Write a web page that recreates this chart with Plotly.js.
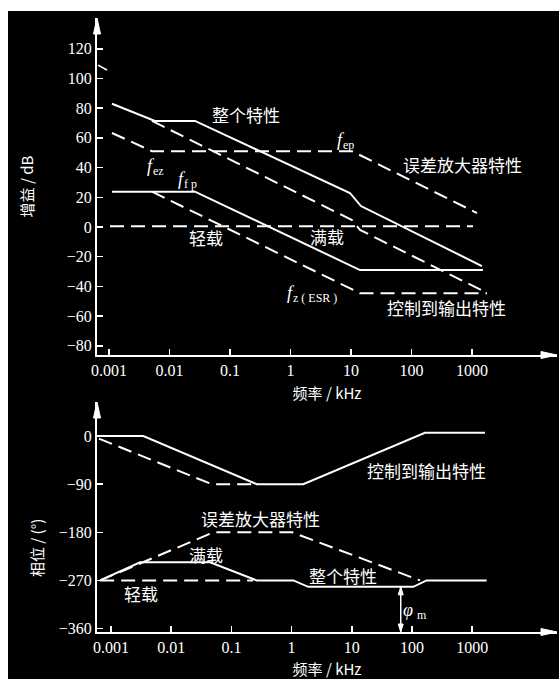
<!DOCTYPE html>
<html>
<head>
<meta charset="utf-8">
<script src="https://cdn.plot.ly/plotly-3.0.1.min.js"></script>
<style>
  html, body { margin: 0; padding: 0; background: #ffffff; }
  #chart { position: absolute; left: 8px; top: 11px; width: 551px; height: 668px; }
</style>
</head>
<body>
<div id="chart"></div>
<script>
// ---------- Tick labels ----------
const freqTicks = [0.001, 0.01, 0.1, 1, 10, 100, 1000];
const freqTickText = ['0.001', '0.01', '0.1', '1', '10', '100', '1000'];
const gainTicks = [120, 100, 80, 60, 40, 20, 0, -20, -40, -60, -80];
const gainTickText = ['120', '100', '80', '60', '40', '20', '0', '−20', '−40', '−60', '−80'];
const phaseTicks = [0, -90, -180, -270, -360];
const phaseTickText = ['0', '−90', '−180', '−270', '−360'];

// ---------- Gain plot (dB) ----------
// 整个特性 (overall, full load) solid
const gainOverallF = [0.00112, 0.00575, 0.0264, 9.6, 14.6, 1460];
const gainOverallV = [83, 71.4, 71.4, 22.9, 14.1, -26.3];
// overall, light load (dashed)
const gainOverallLightF = [0.00514, 10.4, 14.1, 1770];
const gainOverallLightV = [71.4, 4.7, -2, -44.4];
// 误差放大器特性 (error amplifier) dashed
const gainEaF = [0.00112, 0.00514, 10.4, 1210];
const gainEaV = [63.3, 51, 51, 9.4];
// 控制到输出特性 full load (solid)
const gainCtoFullF = [0.00112, 0.0264, 14.1, 1520];
const gainCtoFullV = [23.8, 23.8, -29, -29];
// 控制到输出特性 light load (dashed)
const gainCtoLightF = [0.00514, 14.1, 1770];
const gainCtoLightV = [23.8, -44.6, -44.6];
// 0 dB reference (dashed)
const gainZeroF = [0.00104, 1040];
const gainZeroV = [0.5, 0.5];
// small break mark near top of axis
const breakMarkF = [0.000658, 0.000927];
const breakMarkV = [109, 105.7];

// ---------- Phase plot (deg) ----------
// 控制到输出特性 full load solid
const phCtoFullF = [0.000615, 0.00344, 0.263, 1.56, 164, 1630];
const phCtoFullV = [0, 0, -90, -90, 6, 6];
// 控制到输出特性 light load dashed
const phCtoLightF = [0.00063, 0.0471, 0.229];
const phCtoLightV = [-5, -90, -90];
// 误差放大器特性 dashed
const phEaF = [0.00066, 0.05, 1.02, 136];
const phEaV = [-270, -180, -180, -270];
// 满载 / 整个特性 solid
const phOverallF = [0.00066, 0.00304, 0.0442, 0.263, 1.07, 1.89, 105, 175, 1740];
const phOverallV = [-270, -236, -236, -270, -270, -282, -282, -270, -270];
// 轻载 dashed at -270
const phLightF = [0.00066, 0.229];
const phLightV = [-270, -270];
// phase margin marker (frequency, top phase, axis bottom)
const phaseMarginF = 65;
const phaseMarginTop = -282;
const phaseMarginBottom = -366.4;

const W = '#ffffff';
const DASH = '14px,7px';

function tr(xs, ys, dashed, xa, ya, width) {
  return {
    x: xs, y: ys, xaxis: xa, yaxis: ya, type: 'scatter', mode: 'lines',
    line: { color: W, width: width || 2, dash: dashed ? DASH : 'solid' },
    hoverinfo: 'skip', showlegend: false
  };
}

const data = [
  tr(gainOverallF, gainOverallV, false, 'x', 'y'),
  tr(gainOverallLightF, gainOverallLightV, true, 'x', 'y'),
  tr(gainEaF, gainEaV, true, 'x', 'y'),
  tr(gainCtoFullF, gainCtoFullV, false, 'x', 'y'),
  tr(gainCtoLightF, gainCtoLightV, true, 'x', 'y'),
  tr(gainZeroF, gainZeroV, true, 'x', 'y'),
  tr(breakMarkF, breakMarkV, false, 'x', 'y', 1.5),
  tr(phCtoFullF, phCtoFullV, false, 'x2', 'y2'),
  tr(phCtoLightF, phCtoLightV, true, 'x2', 'y2'),
  tr(phEaF, phEaV, true, 'x2', 'y2'),
  tr(phOverallF, phOverallV, false, 'x2', 'y2'),
  tr(phLightF, phLightV, true, 'x2', 'y2')
];

const serif = "'Liberation Serif', 'Times New Roman', serif";
const cjk = "'Noto Sans CJK SC', sans-serif";
const tickFont = { family: serif, size: 16, color: W };
const titleFont = { family: cjk, size: 15, color: W };

function xAxis(range, anchor, title) {
  return {
    type: 'log', range: range, domain: [0, 1], anchor: anchor,
    showline: true, linecolor: W, linewidth: 2,
    ticks: 'inside', ticklen: 6, tickwidth: 1.5, tickcolor: W,
    tickvals: freqTicks, ticktext: freqTickText, tickfont: tickFont,
    title: { text: title, font: titleFont, standoff: 10 },
    showgrid: false, zeroline: false, fixedrange: true
  };
}
function yAxis(range, domain, anchor, vals, text, title) {
  const ax = {
    range: range, domain: domain, anchor: anchor,
    showline: true, linecolor: W, linewidth: 2,
    ticks: 'inside', ticklen: 6, tickwidth: 1.5, tickcolor: W,
    tickvals: vals, ticktext: text, tickfont: tickFont,
    showgrid: false, zeroline: false, fixedrange: true
  };
  if (title) ax.title = { text: title, font: titleFont, standoff: 30 };
  return ax;
}

function lab(text, x, y, xa, ya, size) {
  return {
    text: text, x: x, y: y, xref: xa, yref: ya, showarrow: false,
    font: { family: cjk, size: size || 17, color: W },
    xanchor: 'center', yanchor: 'middle'
  };
}
// italic symbol + subscript, as two separate texts meeting at (x, y)
function sym(main, subText, x, y, xa, ya, gap) {
  const g = gap || 0;
  return [
    { text: main, x: x, y: y, xref: xa, yref: ya, showarrow: false,
      font: { family: serif, size: 18, color: W, style: 'italic' },
      xanchor: 'right', yanchor: 'middle', xshift: 3 - g, borderpad: 0 },
    { text: subText, x: x, y: y, xref: xa, yref: ya, showarrow: false,
      font: { family: serif, size: 12, color: W },
      xanchor: 'left', yanchor: 'middle', xshift: -1 + g, yshift: -5, borderpad: 0 }
  ];
}
const L = Math.log10;

const topX = 0.4511, botTop = 0.3746;

const annotations = [
  // gain labels
  lab('整个特性', L(0.184), 75.4, 'x', 'y'),
  ...sym('f', 'ep', L(7.38), 58.6, 'x', 'y'),
  lab('误差放大器特性', L(684), 41.8, 'x', 'y'),
  ...sym('f', 'ez', L(0.00533), 41, 'x', 'y'),
  ...sym('f', 'f p', L(0.0174), 32.3, 'x', 'y'),
  lab('轻载', L(0.0401), -7.4, 'x', 'y'),
  lab('满载', L(4.01), -6.1, 'x', 'y'),
  ...sym('f', 'z ( ESR )', L(1.10), -44.4, 'x', 'y'),
  lab('控制到输出特性', L(372), -54.5, 'x', 'y'),
  // phase labels
  lab('满载', L(0.0379), -220.6, 'x2', 'y2'),
  lab('轻载', L(0.00315), -295, 'x2', 'y2'),
  lab('误差放大器特性', L(0.31), -155, 'x2', 'y2'),
  lab('整个特性', L(7.14), -261.7, 'x2', 'y2'),
  lab('控制到输出特性', L(171), -65.4, 'x2', 'y2'),
  ...sym('φ', 'm', L(108), -325, 'x2', 'y2', 3),
  // phase axis title (sits below the axis centre in the reference)
  Object.assign(lab('相位 / (°)', -0.1326, 0.1368, 'paper', 'paper', 15), { textangle: -90 })
];

// arrowheads drawn as small pixel-sized triangles
function head(xref, yref, x, y, path) {
  return {
    type: 'path', xref: xref, yref: yref, xsizemode: 'pixel', ysizemode: 'pixel',
    xanchor: x, yanchor: y, path: path,
    fillcolor: W, line: { color: W, width: 1 }, layer: 'above'
  };
}
const RIGHT = 'M0,0 L-16,3.5 L-16,-3.5 Z';
const UP = 'M0,0 L-3.5,-16 L3.5,-16 Z';
const UP_S = 'M0,0 L-2.5,-8 L2.5,-8 Z';
const DOWN_S = 'M0,0 L-2.5,8 L2.5,8 Z';

const shapes = [
  head('paper', 'paper', 1, topX, RIGHT),
  head('paper', 'paper', 0, 1, UP),
  head('paper', 'paper', 1, 0, RIGHT),
  head('paper', 'paper', 0, botTop, UP),
  // phase margin double arrow (shape coordinates are data values on the log axis)
  { type: 'line', xref: 'x2', yref: 'y2', x0: phaseMarginF, x1: phaseMarginF,
    y0: phaseMarginTop, y1: phaseMarginBottom, line: { color: W, width: 1.5 } },
  head('x2', 'y2', phaseMarginF, phaseMarginTop, UP_S),
  head('x2', 'y2', phaseMarginF, phaseMarginBottom, DOWN_S)
];

const layout = {
  width: 551, height: 668,
  margin: { l: 89, r: 2, t: 7, b: 47 },
  paper_bgcolor: '#000000', plot_bgcolor: '#000000',
  showlegend: false, hovermode: false,
  xaxis: xAxis([-3.198, 4.405], 'y', '频率 / kHz'),
  yaxis: yAxis([-86.2, 140.7], [topX, 1], 'x', gainTicks, gainTickText, '增益 / dB'),
  xaxis2: xAxis([-3.233, 4.409], 'y2', '频率 / kHz'),
  yaxis2: yAxis([-366.4, 63.6], [0, botTop], 'x2', phaseTicks, phaseTickText, null),
  annotations: annotations,
  shapes: shapes
};

Plotly.newPlot('chart', data, layout, { staticPlot: true, displayModeBar: false });
</script>
</body>
</html>
